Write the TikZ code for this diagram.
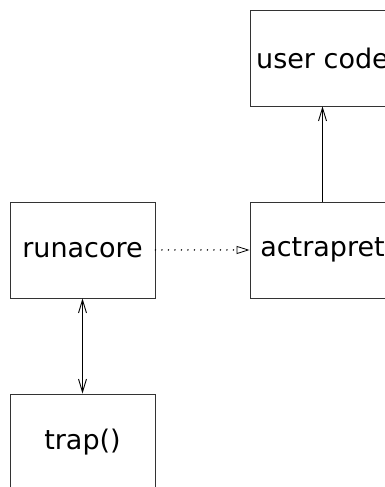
\documentclass[tikz,border=0pt]{standalone}
\usepackage{fontspec}
\setmainfont{DejaVu Sans}
\usetikzlibrary{arrows.meta,positioning}
\tikzset{box/.style={rectangle,draw=black!80,line width=0.9pt,minimum width=145pt,minimum height=96pt,inner sep=0pt,font=\fontsize{27}{32}\selectfont}}
\tikzset{barb/.style={line width=0.9pt,arrows={-Straight Barb[length=13pt,width=8pt]}}}

\begin{document}
\begin{tikzpicture}[x=1pt,y=1pt]
\useasboundingbox (0,0) rectangle (385,487);
% \draw[help lines] (0,0) grid (385,487);
\node (usercode) [box] at (322.5,429) {user code};
\node (runacore) [box] at (82.5,237) {runacore};
\node (actrapret) [box] at (322.5,237) {actrapret};
\node (trap) [box] at (82.5,45) {trap()};
%
\path[barb](actrapret) edge (usercode);
\path[line width=1.6pt,line cap=round,dash pattern=on 0pt off 6.5pt,-{Triangle[open,line width=0.8pt,length=13pt,width=8pt]}](runacore) edge (actrapret);
\path[barb,arrows={Straight Barb[length=13pt,width=8pt]-Straight Barb[length=13pt,width=8pt]}](runacore) edge (trap);
\end{tikzpicture}
\end{document}
